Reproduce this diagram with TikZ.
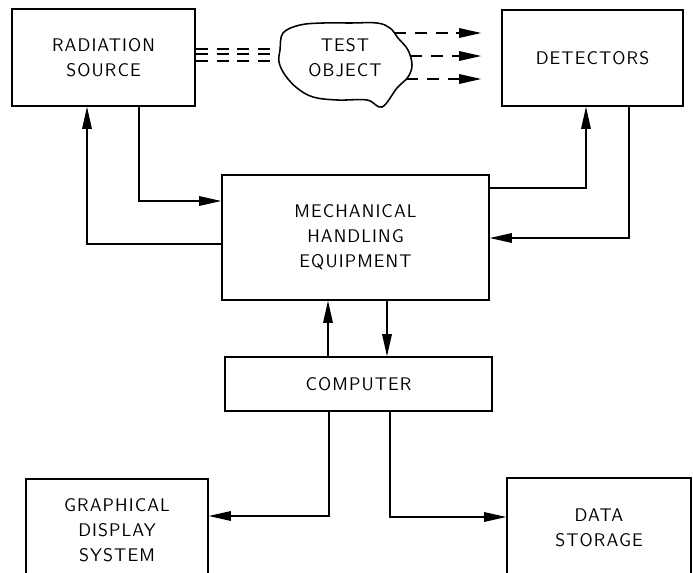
\documentclass[tikz,border=0pt]{standalone}
\usepackage{fontspec}
\newfontfamily\boxfont{Latin Modern Sans}[LetterSpace=6]
\usetikzlibrary{arrows.meta}

\begin{document}
\begin{tikzpicture}[x=0.025cm, y=-0.025cm,
    >={Triangle[length=0.55cm, width=0.24cm]},
    box/.style={draw, line width=1.1pt, align=center, inner sep=0pt,
        font=\boxfont\fontsize{13}{17.7}\selectfont},
    link/.style={line width=0.8pt, ->},
    beam/.style={line width=0.8pt, dash pattern=on 0.3cm off 0.22cm}]

    \useasboundingbox (0,0) rectangle (693,573);
    \clip (0,0) rectangle (693,573);

    % ==========================================
    % TOP ROW: source, test object, detectors
    % ==========================================
    \node[box, minimum width=4.575cm, minimum height=2.425cm] (source) at (103.5,57.5) {RADIATION\\SOURCE};
    \node[box, minimum width=4.525cm, minimum height=2.4cm] (detectors) at (592.5,58) {DETECTORS};

    % Test object outline
    \draw[line width=1.1pt] plot[smooth cycle, tension=0.6] coordinates {
        (283,33) (300,25) (323,23) (350,23) (377,23) (390,28) (398,38)
        (408,50) (412,65) (408,77) (397,88) (382,107) (367,100) (337,100)
        (313,97) (297,88) (285,75) (279,62) (280,50)};
    \node[box, draw=none] (object) at (345,58) {TEST\\OBJECT};

    % Incoming beams
    \foreach \y [count=\i] in {49,54,61} {
        \coordinate (in\i) at (279,\y);
        \draw[beam] (source.east |- in\i) -- (in\i);
    }

    % Outgoing beams
    \foreach \x/\y [count=\i] in {394/33, 410/56, 406/79} {
        \coordinate (out\i) at (\x,\y);
        \draw[beam, ->] (out\i) -- ([xshift=-0.5cm]detectors.west |- out\i);
    }

    % ==========================================
    % MIDDLE: handling equipment and computer
    % ==========================================
    \node[box, minimum width=6.675cm, minimum height=3.125cm] (handling) at (355.5,237.5) {MECHANICAL\\HANDLING\\EQUIPMENT};
    \node[box, minimum width=6.675cm, minimum height=1.35cm] (computer) at (358.5,384) {COMPUTER};

    % Source side loop
    \coordinate (bendA) at (87,244);
    \draw[link] (handling.west |- bendA) -| (source.south -| bendA);
    \coordinate (bendB) at (139,201);
    \draw[link] (source.south -| bendB) |- (handling.west |- bendB);

    % Detector side loop
    \coordinate (bendC) at (586,188);
    \draw[link] (handling.east |- bendC) -| (detectors.south -| bendC);
    \coordinate (bendD) at (629,238);
    \draw[link] (detectors.south -| bendD) |- (handling.east |- bendD);

    % Computer <-> handling
    \coordinate (up) at (328,330);
    \coordinate (down) at (387,330);
    \draw[link] (computer.north -| up) -- (handling.south -| up);
    \draw[link] (handling.south -| down) -- (computer.north -| down);

    % ==========================================
    % BOTTOM ROW: display and storage
    % ==========================================
    \node[box, minimum width=4.55cm, minimum height=2.55cm] (display) at (117,530) {GRAPHICAL\\DISPLAY\\SYSTEM};
    \node[box, minimum width=4.6cm, minimum height=2.475cm] (storage) at (599,527.5) {DATA\\STORAGE};

    \coordinate (bendE) at (329,516);
    \draw[link] (computer.south -| bendE) |- (display.east |- bendE);
    \coordinate (bendF) at (390,517);
    \draw[link] (computer.south -| bendF) |- (storage.west |- bendF);
\end{tikzpicture}
\end{document}
